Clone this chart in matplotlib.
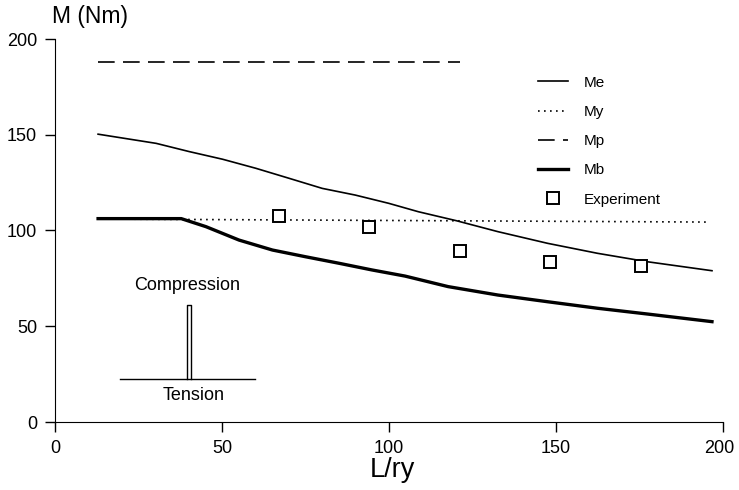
import matplotlib

matplotlib.use("Agg")
import matplotlib.pyplot as plt
from matplotlib.transforms import ScaledTranslation

plt.rcParams["font.family"] = ["Liberation Sans", "DejaVu Sans"]

# values
L_me = [12.9, 30.3, 40.2, 50.2, 60.1, 70, 80, 89.9, 99.9, 108.8, 120.2, 132.6,
        147.5, 162.4, 177.3, 196.7]
m_me = [150.3, 145.5, 141.2, 137.2, 132.5, 127.3, 122, 118.5, 114.2, 109.8, 105.1,
        99.4, 93.3, 88.1, 83.7, 79]

L_my = [12.9, 196]
m_my = [106, 104.4]

L_mp = [12.8, 121.3]
m_mp = [187.8, 187.8]

L_mb = [12.9, 37.8, 45.2, 55.1, 65.1, 75, 85, 94.9, 104.8, 117.7, 132.6, 147.5,
        162.4, 177.3, 196.7]
m_mb = [106.2, 106.2, 102, 95, 89.8, 86.3, 82.9, 79.4, 76.2, 70.7, 66.3, 62.8,
        59.4, 56.4, 52.4]

L_exp = [67.1, 94.1, 121.2, 148.2, 175.4]
m_exp = [107.6, 102, 89.3, 83.7, 81.6]

xticks = [0, 50, 100, 150, 200]
yticks = [0, 50, 100, 150, 200]

INK = "black"

fig = plt.figure(figsize=(7.39, 4.9), dpi=100)
ax = fig.add_axes([55 / 739, 1 - 422 / 490, 668 / 739, 383 / 490])

ax.plot(L_me, m_me, color=INK, lw=1.2, label="Me")
ax.plot(L_my, m_my, color=INK, lw=1.2, ls=(0, (1, 2.6)), label="My")
ax.plot(L_mp, m_mp, color=INK, lw=1.2, ls=(0, (10, 5)), label="Mp")
ax.plot(L_mb, m_mb, color=INK, lw=2.4, label="Mb")
ax.plot(L_exp, m_exp, ls="none", marker="s", ms=8, mfc="white", mec=INK, mew=1.4,
        label="Experiment")

# compression / tension sketch
ax.plot([19.5, 60], [22.3, 22.3], color=INK, lw=1.0)
ax.plot([39.4, 39.4, 40.7, 40.7], [22.3, 61, 61, 22.3], color=INK, lw=1.0)
ax.text(39.6, 71.5, "Compression", ha="center", va="center", fontsize=13)
ax.text(41.6, 14, "Tension", ha="center", va="center", fontsize=13)

ax.set_xlim(0, 200)
ax.set_ylim(0, 200)
ax.set_xticks(xticks)
ax.set_yticks(yticks)
ax.spines["top"].set_visible(False)
ax.spines["right"].set_visible(False)
ax.tick_params(direction="out", length=7, width=1, labelsize=13, pad=6)

# keep the last x label inside the image
fig.canvas.draw()
last = ax.get_xticklabels()[-1]
last.set_transform(last.get_transform() + ScaledTranslation(-4 / 100, 0, fig.dpi_scale_trans))

fig.text(52 / 739, 1 - 17 / 490, "M (Nm)", fontsize=16.5, va="center", ha="left")
fig.text(392 / 739, 1 - 470 / 490, "L/ry", fontsize=19.5, va="center", ha="center")

leg = ax.legend(loc="upper left", bbox_to_anchor=(530 / 739, 1 - 68 / 490),
                bbox_transform=fig.transFigure, frameon=False, fontsize=11,
                handlelength=2.0, labelspacing=1.0, borderpad=0, handletextpad=1.0)

fig.savefig("out.png", dpi=100)
